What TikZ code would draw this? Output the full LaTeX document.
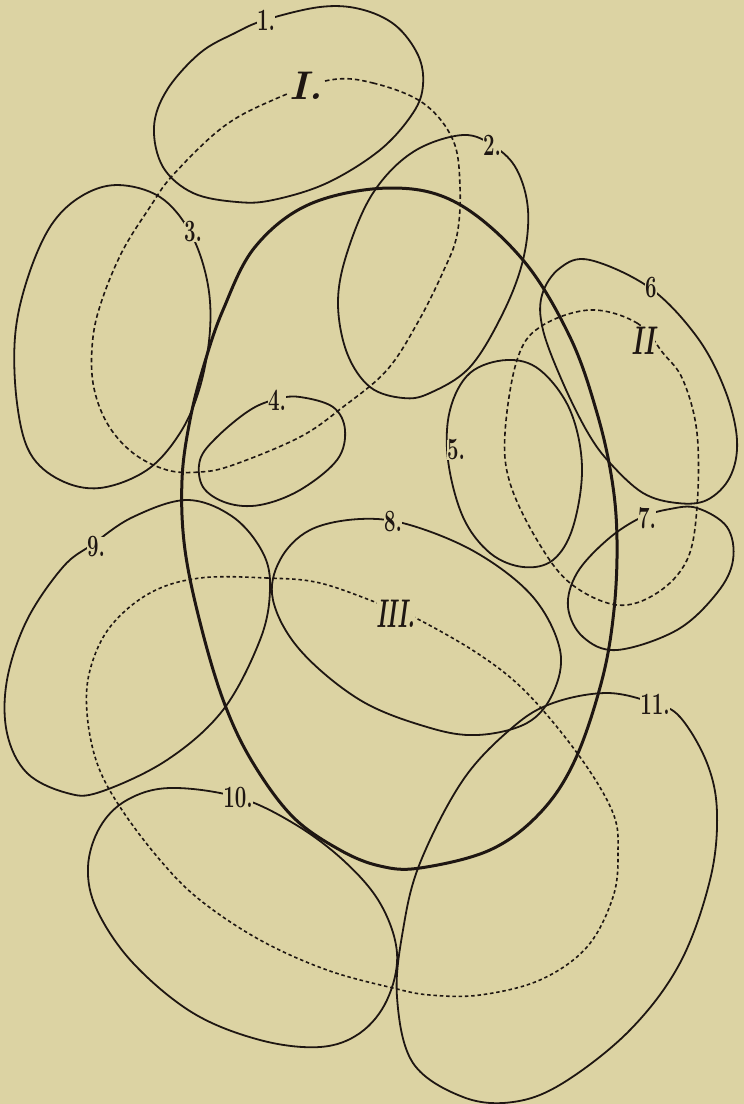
\documentclass[tikz,border=0pt]{standalone}
\definecolor{paper}{RGB}{220,211,163}
\definecolor{ink}{RGB}{30,22,18}
\newcommand{\nlab}[1]{\scalebox{0.66}[1]{#1}}
\begin{document}
\begin{tikzpicture}[x=1pt,y=-1pt,
  region/.style={draw=ink, line width=1.8pt},
  boldregion/.style={draw=ink, line width=3pt},
  group/.style={draw=ink, line width=1.6pt, dash pattern=on 4.5pt off 3pt},
  num/.style={font=\fontsize{31}{33}\selectfont\bfseries, text=ink, fill=paper, inner sep=0pt},
  roman/.style={font=\fontsize{40}{42}\selectfont\bfseries\itshape, text=ink, fill=paper, inner sep=0pt}]
\fill[paper] (0,0) rectangle (744,1104);
\useasboundingbox (0,0) rectangle (744,1104);

% big region III (bold)
\draw[boldregion] plot[smooth cycle, tension=0.6] coordinates {
 (390,188) (457,203) (523,260) (570,337) (597,413) (612,480) (617,540) (614,610)
 (602,680) (575,760) (540,813) (490,850) (420,868) (380,866) (340,850) (293,817)
 (253,763) (225,705) (202,630) (185,550) (182,480) (190,420) (204,365) (223,310)
 (255,247) (310,204)};

% dashed group I
\draw[group] plot[smooth cycle, tension=0.6] coordinates {
 (330,80) (373,83) (423,103) (453,140) (460,187) (457,235) (443,272) (418,322)
 (387,370) (343,407) (300,437) (233,465) (200,472) (167,470) (133,453) (107,423)
 (93,383) (93,337) (103,297) (123,250) (150,207) (173,175) (223,127) (273,100)};

% dashed group II
\draw[group] plot[smooth cycle, tension=0.6] coordinates {
 (590,310) (637,323) (663,353) (683,380) (697,433) (697,507) (687,560) (657,593)
 (617,605) (570,583) (537,540) (510,483) (505,433) (517,360) (540,327)};

% dashed group III
\draw[group, dash pattern=on 3.5pt off 2.8pt] plot[smooth cycle, tension=0.6] coordinates {
 (200,578) (267,578) (320,583) (383,605) (410,615) (477,653) (527,693) (580,757)
 (613,813) (618,853) (613,897) (587,947) (540,980) (480,995) (430,995) (393,988)
 (327,970) (260,940) (200,900) (160,860) (120,807) (97,763) (87,713) (90,670)
 (110,627) (150,593)};

% region 1
\draw[region] plot[smooth cycle, tension=0.6] coordinates {
 (265,20) (320,7) (360,9) (395,25) (418,55) (423,85) (413,113) (380,150) (327,183)
 (273,200) (237,202) (193,193) (163,167) (154,127) (167,90) (200,53) (235,33)};
% region 2
\draw[region] plot[smooth cycle, tension=0.6] coordinates {
 (463,135) (495,147) (517,170) (528,210) (523,260) (503,313) (470,367) (430,393)
 (403,398) (370,387) (347,353) (338,303) (347,253) (373,193) (413,152)};
% region 3
\draw[region] plot[smooth cycle, tension=0.6] coordinates {
 (117,185) (160,197) (190,232) (207,280) (210,330) (200,387) (180,433) (147,470)
 (100,488) (60,480) (30,453) (17,403) (15,337) (27,280) (50,227) (80,197)};
% region 4
\draw[region] plot[smooth cycle, tension=0.6] coordinates {
 (277,399) (300,397) (333,407) (345,430) (337,460) (300,490) (260,505) (227,503)
 (203,487) (200,460) (217,437) (250,410)};
% region 5
\draw[region] plot[smooth cycle, tension=0.6] coordinates {
 (507,360) (540,370) (570,410) (582,467) (573,527) (553,560) (523,567) (490,553)
 (463,517) (448,460) (450,410) (470,373)};
% region 6
\draw[region] plot[smooth cycle, tension=0.6] coordinates {
 (590,260) (650,288) (697,337) (725,390) (737,440) (730,477) (707,500) (677,503)
 (643,493) (610,463) (588,433) (563,383) (543,330) (542,295) (560,268)};
% region 7
\draw[region] plot[smooth cycle, tension=0.6] coordinates {
 (670,509) (697,508) (727,527) (733,560) (717,593) (677,630) (617,650) (583,637)
 (568,607) (577,573) (607,540) (640,518)};
% region 8
\draw[region] plot[smooth cycle, tension=0.6] coordinates {
 (360,519) (410,525) (477,553) (533,597) (560,650) (553,693) (527,723) (477,735)
 (427,727) (360,700) (300,650) (273,600) (280,560) (310,530)};
% region 9
\draw[region] plot[smooth cycle, tension=0.6] coordinates {
 (187,500) (233,517) (263,553) (270,590) (260,640) (223,710) (167,760) (100,792)
 (67,793) (27,773) (7,733) (7,680) (27,620) (63,567) (93,544) (133,517)};
% region 10
\draw[region] plot[smooth cycle, tension=0.6] coordinates {
 (170,788) (237,797) (293,823) (343,860) (380,903) (397,953) (387,1000) (360,1033)
 (320,1047) (260,1040) (193,1013) (133,963) (97,910) (88,867) (100,827) (127,800)};
% region 11
\draw[region] plot[smooth cycle, tension=0.6] coordinates {
 (607,693) (653,703) (680,717) (707,763) (717,813) (710,880) (680,963) (630,1030)
 (563,1083) (513,1102) (463,1097) (413,1063) (397,997) (403,930) (420,863)
 (463,780) (513,727) (553,703)};

% labels
\node[num] (l1) at (266,20) {\nlab{1.}};
\node[num] (l2) at (492,145) {\nlab{2.}};
\node[num] (l3) at (193,232) {\nlab{3.}};
\node[num] (l4) at (277,400) {\nlab{4.}};
\node[num] (l5) at (456,450) {\nlab{5.}};
\node[num] (l6) at (651,288) {\nlab{6}};
\node[num] (l7) at (647,518) {\nlab{7.}};
\node[num] (l8) at (393,522) {\nlab{8.}};
\node[num] (l9) at (96,547) {\nlab{9.}};
\node[num] (l10) at (238,798) {\nlab{10.}};
\node[num] (l11) at (655,704) {\nlab{11.}};
\node[roman] (lI) at (306,86) {I.};
\node[roman] (lII) at (643,341) {\scalebox{0.62}[1]{II}};
\node[roman] (lIII) at (396,614) {\scalebox{0.55}[1]{III.}};
\end{tikzpicture}
\end{document}
